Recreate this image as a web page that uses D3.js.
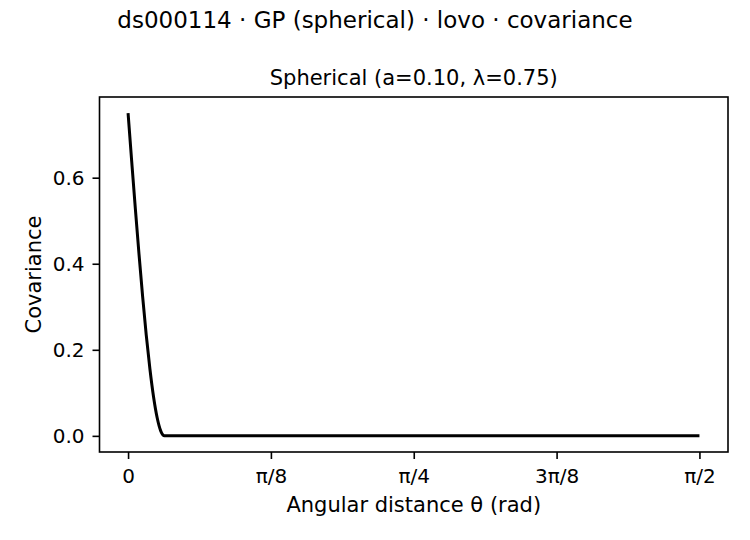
<!DOCTYPE html>
<html>
<head>
<meta charset="utf-8">
<script src="https://cdn.jsdelivr.net/npm/d3@7"></script>
<style>
  body { margin: 0; background: #fff; }
  text { font-family: "DejaVu Sans", sans-serif; fill: #000; }
</style>
</head>
<body>
<div id="chart"></div>
<script>
// values (angular distance in rad, covariance)
var theta = [0, 0.01, 0.02, 0.03, 0.04, 0.05, 0.06, 0.07, 0.08, 0.09, 0.10, Math.PI / 2];
var cov = [0.75, 0.638, 0.528, 0.423, 0.324, 0.234, 0.156, 0.091, 0.042, 0.011, 0, 0];

var xTicks = [0, Math.PI / 8, Math.PI / 4, 3 * Math.PI / 8, Math.PI / 2];
var xTickLabels = ["0", "π/8", "π/4", "3π/8", "π/2"];
var yTicks = [0.0, 0.2, 0.4, 0.6];

var width = 750, height = 540;
var margin = { top: 97, right: 22, bottom: 88, left: 99.5 };
var w = width - margin.left - margin.right,
    h = height - margin.top - margin.bottom;

var svg = d3.select("#chart").append("svg")
    .attr("width", width)
    .attr("height", height);

var g = svg.append("g")
    .attr("transform", "translate(" + margin.left + "," + margin.top + ")");

var xmax = Math.PI / 2, ymax = 0.75;
var x = d3.scaleLinear().domain([-0.05 * xmax, 1.05 * xmax]).range([0, w]);
var y = d3.scaleLinear().domain([-0.05 * ymax, 1.05 * ymax]).range([h, 0]);

var data = theta.map(function(t, i) { return { t: t, c: cov[i] }; });

var line = d3.line()
    .x(function(d) { return x(d.t); })
    .y(function(d) { return y(d.c); })
    .curve(d3.curveMonotoneX);

g.append("path")
    .datum(data)
    .attr("fill", "none")
    .attr("stroke", "#000")
    .attr("stroke-width", 3)
    .attr("stroke-linecap", "butt")
    .attr("d", line);

// axes
var xAxis = d3.axisBottom(x).tickValues(xTicks)
    .tickFormat(function(d, i) { return xTickLabels[i]; })
    .tickSizeInner(7).tickSizeOuter(0).tickPadding(9.5);
var yAxis = d3.axisLeft(y).tickValues(yTicks)
    .tickFormat(d3.format(".1f"))
    .tickSizeInner(7).tickSizeOuter(0).tickPadding(8);

var gx = g.append("g").attr("transform", "translate(0," + h + ")").call(xAxis);
var gy = g.append("g").call(yAxis);
[gx, gy].forEach(function(a) {
  a.select(".domain").remove();
  a.selectAll(".tick line").attr("stroke", "#000").attr("stroke-width", 1.6);
  a.selectAll(".tick text").style("font-size", "20px").attr("font-family", "DejaVu Sans");
});

// frame
g.append("rect")
    .attr("width", w).attr("height", h)
    .attr("fill", "none")
    .attr("stroke", "#000")
    .attr("stroke-width", 1.6);

// labels
svg.append("text")
    .attr("x", margin.left + w / 2).attr("y", 511.5)
    .attr("text-anchor", "middle")
    .style("font-size", "21px")
    .text("Angular distance θ (rad)");

svg.append("text")
    .attr("transform", "translate(40.5," + (margin.top + h / 2) + ") rotate(-90)")
    .attr("text-anchor", "middle")
    .style("font-size", "21px")
    .text("Covariance");

svg.append("text")
    .attr("x", margin.left + w / 2).attr("y", 85)
    .attr("text-anchor", "middle")
    .style("font-size", "21px")
    .text("Spherical (a=0.10, λ=0.75)");

svg.append("text")
    .attr("x", 375).attr("y", 27.5)
    .attr("text-anchor", "middle")
    .style("font-size", "23px")
    .text("ds000114 · GP (spherical) · lovo · covariance");
</script>
</body>
</html>
